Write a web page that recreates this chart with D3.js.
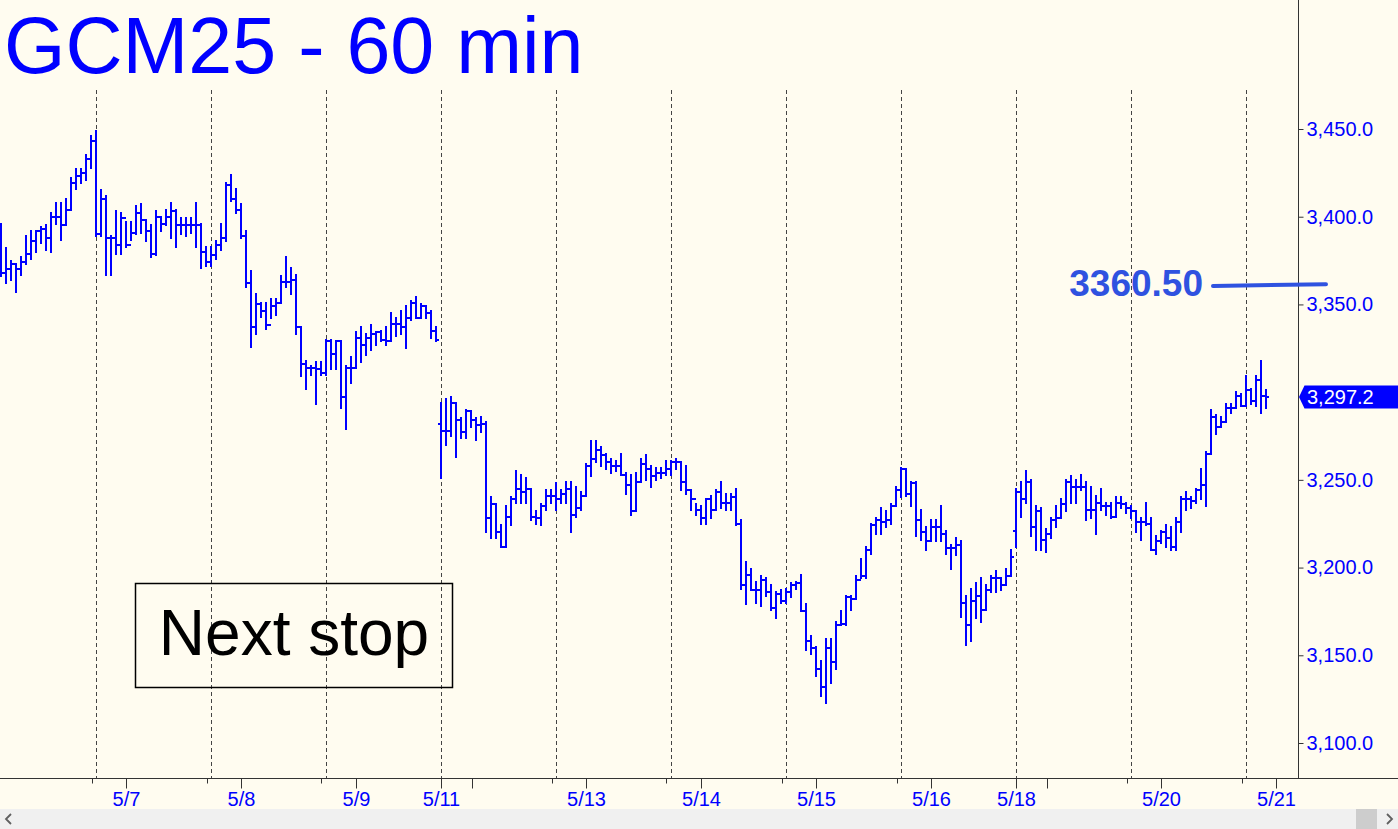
<!DOCTYPE html>
<html>
<head>
<meta charset="utf-8">
<script src="https://cdn.jsdelivr.net/npm/d3@7"></script>
<style>
  html, body { margin: 0; padding: 0; background: #fffcf0; overflow: hidden; }
  svg { display: block; font-family: "Liberation Sans", Arial, sans-serif; }
</style>
</head>
<body>
<svg width="1398" height="829"></svg>
<script>
// hourly bars, GCM25
var opens = [
  3372,3368,3370,3373,3370,3374,3379,3386,3392,3393,
  3388,3400,3400,3395,3404,3419,3423,3425,3433,3443,
  3390,3410,3388,3388,3384,3399,3384,3391,3402,3398,
  3392,3379,3400,3396,3400,3403,3395,3395,3395,3395,
  3395,3380,3374,3378,3384,3388,3418,3410,3404,3389,
  3362,3337,3350,3346,3338,3349,3351,3363,3363,3364,
  3337,3316,3314,3314,3313,3311,3329,3322,3329,3297,
  3314,3314,3331,3327,3331,3333,3334,3330,3329,3339,
  3339,3337,3342,3351,3342,3349,3345,3335,3282,3278,
  3278,3294,3284,3277,3289,3284,3281,3282,3228,3236,
  3220,3212,3229,3239,3245,3243,3245,3229,3228,3235,
  3241,3241,3239,3242,3245,3230,3234,3241,3258,3262,
  3267,3264,3260,3258,3258,3253,3247,3232,3249,3259,
  3256,3252,3254,3254,3256,3260,3260,3249,3244,3239,
  3233,3228,3239,3233,3243,3237,3237,3240,3225,3190,
  3196,3187,3187,3193,3186,3177,3185,3181,3186,3190,
  3191,3175,3158,3154,3142,3132,3154,3146,3167,3168,
  3183,3182,3193,3195,3210,3224,3227,3226,3227,3235,
  3244,3256,3242,3248,3227,3220,3215,3223,3223,3219,
  3211,3211,3213,3180,3167,3181,3184,3176,3187,3194,
  3194,3190,3195,3221,3243,3239,3249,3223,3232,3216,
  3219,3227,3228,3236,3249,3246,3246,3246,3233,3233,
  3237,3235,3235,3229,3237,3236,3234,3232,3226,3226,
  3225,3210,3215,3220,3217,3212,3226,3239,3239,3238,
  3244,3247,3265,3286,3280,3283,3291,3291,3298,3292,
  3301,3295,3307,3298
];
var highs = [
  3396,3382,3375,3373,3377,3389,3392,3392,3394,3395,
  3402,3408,3408,3410,3422,3427,3427,3435,3446,3449,
  3415,3412,3389,3403,3402,3397,3397,3406,3407,3398,
  3395,3403,3400,3404,3408,3404,3399,3399,3399,3408,
  3396,3383,3383,3386,3396,3419,3424,3416,3407,3392,
  3369,3356,3351,3351,3353,3353,3366,3377,3371,3367,
  3337,3318,3315,3317,3317,3330,3330,3329,3329,3315,
  3320,3334,3337,3333,3338,3334,3335,3337,3345,3342,
  3346,3349,3352,3354,3350,3349,3346,3337,3294,3296,
  3297,3294,3285,3290,3289,3285,3286,3283,3240,3236,
  3224,3235,3240,3255,3253,3251,3245,3232,3236,3244,
  3244,3248,3244,3249,3249,3246,3243,3259,3272,3272,
  3269,3265,3262,3261,3265,3254,3253,3254,3262,3264,
  3258,3257,3257,3261,3261,3262,3260,3258,3244,3236,
  3235,3239,3241,3244,3249,3242,3242,3245,3227,3203,
  3199,3192,3195,3194,3190,3186,3187,3188,3191,3192,
  3196,3179,3161,3155,3147,3159,3159,3169,3175,3184,
  3184,3195,3205,3212,3225,3228,3234,3232,3236,3246,
  3257,3256,3249,3249,3233,3223,3227,3227,3235,3221,
  3213,3217,3215,3184,3188,3191,3194,3190,3195,3198,
  3194,3199,3210,3245,3249,3255,3250,3235,3234,3222,
  3228,3235,3239,3250,3252,3250,3253,3249,3246,3241,
  3245,3237,3237,3240,3240,3237,3235,3232,3228,3237,
  3228,3218,3221,3224,3223,3228,3240,3243,3240,3245,
  3256,3266,3290,3287,3286,3293,3293,3300,3299,3309,
  3302,3309,3318,3301
];
var lows = [
  3366,3362,3364,3357,3367,3373,3376,3380,3385,3381,
  3380,3396,3387,3395,3404,3416,3419,3421,3428,3389,
  3389,3367,3367,3379,3379,3383,3387,3390,3391,3386,
  3377,3378,3392,3395,3388,3383,3390,3389,3391,3383,
  3371,3372,3372,3376,3381,3386,3409,3402,3388,3360,
  3326,3333,3343,3336,3342,3344,3351,3360,3356,3333,
  3309,3302,3310,3293,3310,3310,3313,3313,3291,3279,
  3305,3314,3317,3321,3324,3327,3329,3327,3329,3332,
  3333,3325,3341,3342,3342,3342,3331,3329,3251,3270,
  3275,3263,3274,3274,3280,3273,3277,3220,3217,3217,
  3212,3212,3224,3237,3237,3237,3227,3225,3224,3233,
  3237,3233,3237,3237,3220,3229,3233,3241,3252,3260,
  3258,3256,3254,3255,3253,3242,3230,3232,3249,3250,
  3246,3250,3251,3253,3253,3256,3244,3242,3233,3230,
  3225,3225,3228,3233,3234,3233,3233,3224,3188,3179,
  3187,3180,3178,3184,3176,3171,3180,3180,3183,3188,
  3175,3153,3151,3138,3127,3123,3134,3142,3167,3167,
  3176,3182,3194,3194,3208,3219,3219,3223,3225,3235,
  3240,3241,3235,3218,3216,3210,3215,3215,3215,3208,
  3199,3207,3172,3156,3158,3171,3169,3176,3186,3186,
  3187,3190,3195,3212,3229,3237,3218,3210,3210,3209,
  3217,3223,3228,3232,3237,3237,3244,3227,3228,3219,
  3233,3230,3228,3229,3234,3231,3228,3220,3216,3224,
  3210,3208,3214,3212,3210,3210,3220,3233,3234,3237,
  3239,3235,3265,3276,3280,3283,3288,3291,3292,3292,
  3293,3292,3288,3291
];
var closes = [
  3368,3370,3373,3370,3374,3379,3386,3392,3393,3388,
  3400,3400,3395,3404,3419,3423,3425,3433,3443,3390,
  3410,3388,3388,3384,3399,3384,3391,3402,3398,3392,
  3379,3400,3396,3400,3403,3395,3395,3395,3395,3395,
  3380,3374,3378,3384,3388,3418,3410,3404,3389,3362,
  3337,3350,3346,3338,3349,3351,3363,3363,3364,3337,
  3316,3314,3314,3313,3311,3329,3322,3329,3297,3314,
  3314,3331,3327,3331,3333,3334,3330,3329,3339,3339,
  3337,3342,3351,3342,3349,3345,3335,3330,3278,3278,
  3294,3284,3277,3289,3284,3281,3282,3228,3236,3220,
  3212,3229,3239,3245,3243,3245,3229,3228,3235,3241,
  3241,3239,3242,3245,3230,3234,3241,3258,3262,3267,
  3264,3260,3258,3258,3253,3247,3232,3249,3259,3256,
  3252,3254,3254,3256,3260,3260,3249,3244,3239,3233,
  3228,3239,3233,3243,3237,3237,3240,3225,3190,3196,
  3187,3187,3193,3186,3177,3185,3181,3186,3190,3191,
  3175,3158,3154,3142,3132,3154,3146,3167,3168,3183,
  3182,3193,3195,3210,3224,3227,3226,3227,3235,3244,
  3256,3242,3248,3227,3220,3215,3223,3223,3219,3211,
  3211,3213,3180,3167,3181,3184,3176,3187,3194,3194,
  3190,3195,3206,3243,3239,3249,3223,3232,3216,3219,
  3227,3228,3236,3249,3246,3246,3246,3233,3233,3237,
  3235,3235,3229,3237,3236,3234,3232,3226,3226,3225,
  3210,3215,3220,3217,3212,3226,3239,3239,3238,3244,
  3247,3265,3286,3280,3283,3291,3291,3298,3292,3301,
  3295,3307,3298,3297.2
];

// bar index where each session starts (dashed lines)
var sessionStarts = [19, 42, 65, 88, 111, 134, 157, 180, 203, 226, 249];
var dateLabels = ['5/7', '5/8', '5/9', '5/11', '5/13', '5/14', '5/15', '5/16', '5/18', '5/20', '5/21'];
var dateTickIdx = [25, 48, 71, 88, 117, 140, 163, 186, 203, 232, 255];
var blankTickIdx = [94.2, 209.2];
var minorTickIdx = [18.1, 41.1, 64.1, 110.1, 133.1, 156.1, 179.1, 225.1, 248.1];
// 3,300.0 sits under the last-price tag, so it is not labelled
var priceTicks = [3100, 3150, 3200, 3250, 3350, 3400, 3450];
var lastPrice = 3297.2;
var targetLevel = [3360.5, 3361.5];
var targetText = '3360.50';

var blue = '#0000ff';
var svg = d3.select('svg');

var x = d3.scaleLinear().domain([0, 253]).range([1, 1266]);
var y = d3.scaleLinear().domain([3100, 3450]).range([743, 129]);
var axisX = 1298.5, axisY = 778.5;

// session separators
svg.append('g').selectAll('line')
  .data(sessionStarts)
  .enter().append('line')
    .attr('x1', d => Math.round(x(d)) + 0.5)
    .attr('x2', d => Math.round(x(d)) + 0.5)
    .attr('y1', 90)
    .attr('y2', axisY)
    .attr('stroke', '#444')
    .attr('stroke-dasharray', '4,3');

// title
svg.append('text')
  .text('GCM25 - 60 min')
  .attr('x', 4)
  .attr('y', 73)
  .attr('fill', blue)
  .style('font-size', '79px');

// OHLC bars
var bars = svg.append('g')
  .attr('stroke', blue)
  .attr('stroke-width', 2)
  .attr('shape-rendering', 'crispEdges');

closes.forEach(function(c, i) {
  var cx = Math.round(x(i));
  bars.append('line')
    .attr('x1', cx).attr('x2', cx)
    .attr('y1', y(highs[i]) - 1).attr('y2', y(lows[i]) + 1);
  bars.append('line')
    .attr('x1', cx - 3).attr('x2', cx)
    .attr('y1', y(opens[i])).attr('y2', y(opens[i]));
  bars.append('line')
    .attr('x1', cx).attr('x2', cx + 3)
    .attr('y1', y(c)).attr('y2', y(c));
});

// price axis
var yAxis = svg.append('g')
  .attr('transform', 'translate(' + axisX + ',0)')
  .call(d3.axisRight(y).tickValues(priceTicks).tickFormat(d3.format(',.1f')).tickSize(5).tickPadding(3));
yAxis.select('.domain').remove();
yAxis.selectAll('line').attr('stroke', '#333');
yAxis.selectAll('text')
  .attr('fill', blue)
  .style('font-size', '20px')
  .style('font-family', '"Liberation Sans", Arial, sans-serif');

svg.append('line')
  .attr('x1', axisX).attr('x2', axisX)
  .attr('y1', 0).attr('y2', axisY)
  .attr('stroke', '#333');

// time axis
svg.append('line')
  .attr('x1', 0).attr('x2', 1398)
  .attr('y1', axisY).attr('y2', axisY)
  .attr('stroke', '#333');

var xAxis = svg.append('g')
  .attr('transform', 'translate(0,' + axisY + ')')
  .call(d3.axisBottom(x).tickValues(dateTickIdx).tickSize(10).tickPadding(3)
    .tickFormat((d, i) => dateLabels[i]));
xAxis.select('.domain').remove();
xAxis.selectAll('line').attr('stroke', '#333');
xAxis.selectAll('text')
  .attr('fill', blue)
  .style('font-size', '20px')
  .style('font-family', '"Liberation Sans", Arial, sans-serif');

svg.append('g').selectAll('line')
  .data(blankTickIdx)
  .enter().append('line')
    .attr('x1', d => Math.round(x(d)) + 0.5).attr('x2', d => Math.round(x(d)) + 0.5)
    .attr('y1', axisY).attr('y2', axisY + 10)
    .attr('stroke', '#333');

svg.append('g').selectAll('line')
  .data(minorTickIdx)
  .enter().append('line')
    .attr('x1', d => Math.round(x(d)) + 0.5).attr('x2', d => Math.round(x(d)) + 0.5)
    .attr('y1', axisY).attr('y2', axisY + 5)
    .attr('stroke', '#333');

// last price tag
var ly = y(lastPrice);
svg.append('path')
  .attr('d', 'M' + (axisX + 0.5) + ',' + ly + 'L' + (axisX + 6) + ',' + (ly - 11.5) + 'L1398,' + (ly - 11.5) +
             'L1398,' + (ly + 11.5) + 'L' + (axisX + 6) + ',' + (ly + 11.5) + 'Z')
  .attr('fill', blue);
svg.append('text')
  .text(d3.format(',.1f')(lastPrice))
  .attr('x', 1307)
  .attr('y', ly)
  .attr('dy', '0.35em')
  .attr('fill', '#fff')
  .style('font-size', '20px');

// target level
var tColor = '#2f52e0';
svg.append('line')
  .attr('x1', 1213).attr('x2', 1326)
  .attr('y1', y(targetLevel[0])).attr('y2', y(targetLevel[1]))
  .attr('stroke', tColor)
  .attr('stroke-width', 4)
  .attr('stroke-linecap', 'round');
svg.append('text')
  .text(targetText)
  .attr('x', 1203)
  .attr('y', y(targetLevel[0]) + 10)
  .attr('text-anchor', 'end')
  .attr('fill', tColor)
  .style('font-size', '37px')
  .style('font-weight', 'bold');

// annotation box
svg.append('rect')
  .attr('x', 135.5).attr('y', 583.5)
  .attr('width', 317).attr('height', 104)
  .attr('fill', 'none')
  .attr('stroke', '#000')
  .attr('stroke-width', 1.5);
svg.append('text')
  .text('Next stop')
  .attr('x', 294)
  .attr('y', 655)
  .attr('text-anchor', 'middle')
  .attr('fill', '#000')
  .style('font-size', '64px');

// scrollbar strip
svg.append('rect')
  .attr('x', 0).attr('y', 809)
  .attr('width', 1398).attr('height', 20)
  .attr('fill', '#f0f0f0');
svg.append('rect')
  .attr('x', 1356).attr('y', 809)
  .attr('width', 21).attr('height', 20)
  .attr('fill', '#cdcdcd');
svg.append('path')
  .attr('d', 'M11,814L6,819L11,824M1387,814L1392,819L1387,824')
  .attr('fill', 'none')
  .attr('stroke', '#606060')
  .attr('stroke-width', 1.8);
</script>
</body>
</html>
